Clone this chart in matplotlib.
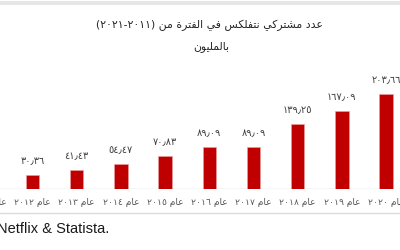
import re
import numpy as np
import matplotlib
matplotlib.use("Agg")
import matplotlib.pyplot as plt
from matplotlib.patches import Rectangle
from matplotlib.lines import Line2D

# ---------------- data ----------------
years = ["٢٠١١", "٢٠١٢", "٢٠١٣", "٢٠١٤", "٢٠١٥", "٢٠١٦", "٢٠١٧", "٢٠١٨", "٢٠١٩", "٢٠٢٠"]
values = [np.nan, 30.36, 41.43, 54.47, 70.83, 89.09, 89.09, 139.25, 167.09, 203.66]
value_labels = ["", "٣٠٫٣٦", "٤١٫٤٣", "٥٤٫٤٧", "٧٠٫٨٣", "٨٩٫٠٩", "٨٩٫٠٩", "١٣٩٫٢٥", "١٦٧٫٠٩", "٢٠٣٫٦٦"]
tick_labels = ["عام " + y for y in years]
title_line1 = "عدد مشتركي نتفلكس في الفترة من (٢٠١١-٢٠٢١)"
title_line2 = "بالمليون"
source_text = "Netflix & Statista."

# ------------- minimal Arabic shaping (no external libs) -------------
_DUAL = {'ب': 0xFE8F, 'ت': 0xFE95, 'ث': 0xFE99, 'ج': 0xFE9D, 'ح': 0xFEA1, 'خ': 0xFEA5,
         'س': 0xFEB1, 'ش': 0xFEB5, 'ص': 0xFEB9, 'ض': 0xFEBD, 'ط': 0xFEC1, 'ظ': 0xFEC5,
         'ع': 0xFEC9, 'غ': 0xFECD, 'ف': 0xFED1, 'ق': 0xFED5, 'ك': 0xFED9, 'ل': 0xFEDD,
         'م': 0xFEE1, 'ن': 0xFEE5, 'ه': 0xFEE9, 'ي': 0xFEF1, 'ى': 0xFEEF}
_RIGHT = {'ا': 0xFE8D, 'د': 0xFEA9, 'ذ': 0xFEAB, 'ر': 0xFEAD, 'ز': 0xFEAF, 'و': 0xFEED,
          'ة': 0xFE93}


def _is_ar(c):
    return c in _DUAL or c in _RIGHT


def shape(text):
    out = []
    n = len(text)
    for i, c in enumerate(text):
        if not _is_ar(c):
            out.append(c)
            continue
        prev = text[i - 1] if i > 0 else ''
        nxt = text[i + 1] if i < n - 1 else ''
        jp = prev in _DUAL
        jn = (c in _DUAL) and _is_ar(nxt)
        if c in _DUAL:
            b = _DUAL[c]
            if jp and jn:
                out.append(chr(b + 3))
            elif jp:
                out.append(chr(b + 1))
            elif jn:
                out.append(chr(b + 2))
            else:
                out.append(chr(b))
        else:
            b = _RIGHT[c]
            out.append(chr(b + 1) if jp else chr(b))
    shaped = ''.join(out)
    tokens = re.findall(r'[0-9٠-٩٫٬]+|.', shaped)
    mirror = {'(': ')', ')': '('}
    vis = [mirror.get(t, t) for t in reversed(tokens)]
    return ''.join(vis)


plt.rcParams['font.family'] = ['DejaVu Sans']

W, H = 400, 250
fig = plt.figure(figsize=(W / 100, H / 100), dpi=100)
fig.patch.set_facecolor('white')

# layout (pixels)
base_px = 189.0
px_per_unit = 0.466
center0_px = 32.5     # centre of 2012 bar
step_px = 44.2
bar_px = 13.5

ax = fig.add_axes([0, (H - base_px) / H, 1, base_px / H])
x = np.arange(len(years))
x0 = 1 - center0_px / step_px
ax.set_xlim(x0, x0 + W / step_px)
ax.set_ylim(0, base_px / px_per_unit)
ax.axis('off')

ax.bar(x, values, width=bar_px / step_px, color='#c00000', edgecolor='#e9a3a3', linewidth=0.4, zorder=2)
ax.axhline(0, color='#d9d9d9', lw=1.0, zorder=1)

for xi, v, lab in zip(x, values, value_labels):
    if np.isnan(v):
        continue
    ax.annotate(shape(lab), (xi, v), xytext=(0, 6.5), textcoords='offset points',
                ha='center', va='bottom', fontsize=7, color='#404040')

for xi, lab in zip(x, tick_labels):
    ax.annotate(shape(lab), (xi, 0), xytext=(0, -9.5), textcoords='offset points',
                ha='center', va='center', fontsize=6.6, color='#595959',
                annotation_clip=False)

# title
fig.text(0.523, 1 - 25 / H, shape(title_line1), ha='center', va='center',
         fontsize=7.8, color='#262626')
fig.text(0.528, 1 - 47 / H, shape(title_line2), ha='center', va='center',
         fontsize=7.8, color='#262626')

# top band and separator line
fig.add_artist(Rectangle((0, 1 - 5 / H), 1, 3.5 / H, transform=fig.transFigure,
                         facecolor='#e6e6e6', edgecolor='none'))
fig.add_artist(Line2D([0, 1], [1 - 213 / H, 1 - 213 / H], transform=fig.transFigure,
                      color='#dcdcdc', lw=1.0))

# source
fig.text(-3 / W, 1 - 229 / H, source_text, ha='left', va='center', fontsize=10.5,
         color='#1a1a1a', family=['Liberation Sans', 'DejaVu Sans'])

fig.savefig('out.png', dpi=100, facecolor='white')
